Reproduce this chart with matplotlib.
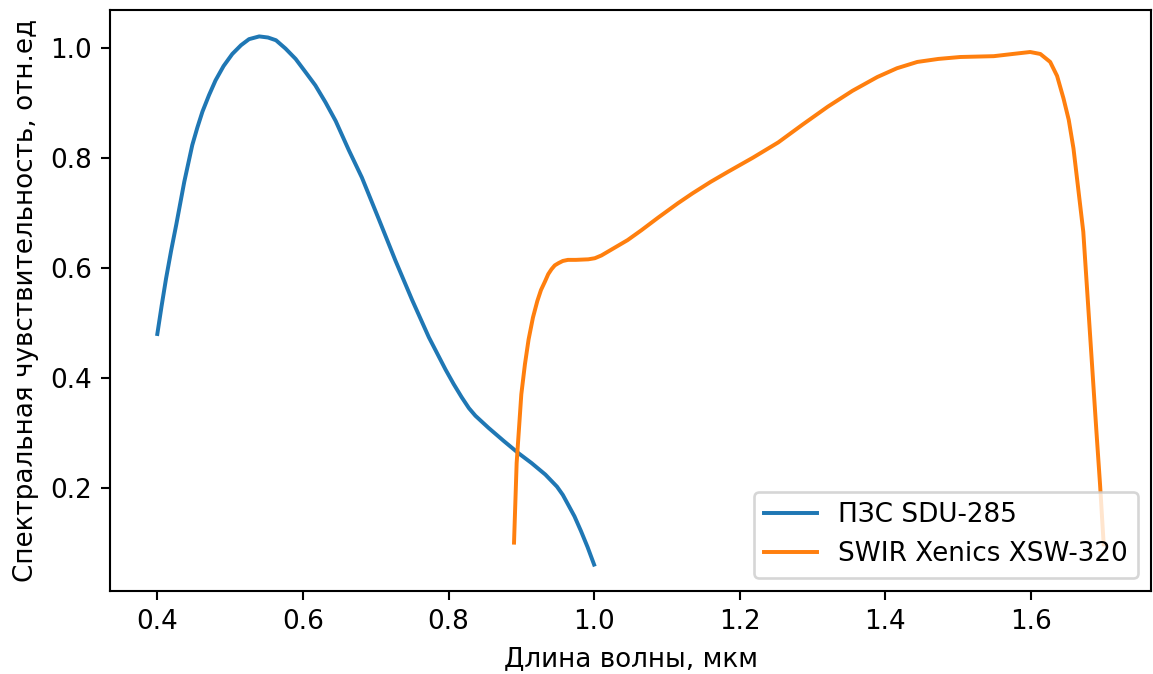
import matplotlib
matplotlib.use("Agg")
import matplotlib.pyplot as plt

# ПЗС SDU-285 (visible CCD)
ccd_wl = [0.400, 0.406, 0.412, 0.419, 0.426, 0.437, 0.448, 0.455, 0.462, 0.471,
          0.480, 0.491, 0.503, 0.515, 0.526, 0.540, 0.552, 0.563, 0.576, 0.590,
          0.603, 0.617, 0.631, 0.645, 0.663, 0.681, 0.704, 0.727, 0.750, 0.773,
          0.796, 0.807, 0.818, 0.828, 0.837, 0.855, 0.876, 0.896, 0.914, 0.933,
          0.949, 0.957, 0.964, 0.973, 0.982, 0.991, 1.000]
ccd_resp = [0.480, 0.532, 0.581, 0.632, 0.679, 0.757, 0.824, 0.856, 0.885, 0.915,
            0.942, 0.968, 0.990, 1.006, 1.017, 1.022, 1.020, 1.015, 1.000, 0.981,
            0.958, 0.933, 0.902, 0.868, 0.815, 0.765, 0.690, 0.614, 0.542, 0.474,
            0.415, 0.389, 0.365, 0.345, 0.331, 0.309, 0.285, 0.263, 0.245, 0.224,
            0.202, 0.187, 0.170, 0.148, 0.121, 0.092, 0.060]

# SWIR Xenics XSW-320
swir_wl = [0.890, 0.8936, 0.900, 0.905, 0.910, 0.916, 0.922, 0.927, 0.9325, 0.937,
           0.9415, 0.946, 0.951, 0.957, 0.964, 0.975, 0.992, 1.001, 1.010, 1.019,
           1.028, 1.046, 1.065, 1.088, 1.115, 1.135, 1.160, 1.184, 1.218, 1.253,
           1.287, 1.321, 1.355, 1.389, 1.416, 1.444, 1.473, 1.503, 1.549, 1.575,
           1.599, 1.613, 1.6265, 1.636, 1.6448, 1.652, 1.6585, 1.665, 1.672, 1.681,
           1.690, 1.695, 1.700]
swir_resp = [0.100, 0.245, 0.370, 0.425, 0.470, 0.510, 0.540, 0.560, 0.5755, 0.589,
             0.598, 0.605, 0.609, 0.613, 0.615, 0.615, 0.616, 0.618, 0.623, 0.630,
             0.637, 0.651, 0.669, 0.692, 0.718, 0.736, 0.757, 0.7755, 0.801, 0.829,
             0.862, 0.894, 0.923, 0.948, 0.964, 0.9755, 0.981, 0.9845, 0.986, 0.990,
             0.9936, 0.990, 0.9755, 0.950, 0.909, 0.870, 0.818, 0.745, 0.666, 0.4845,
             0.303, 0.206, 0.097]

dpi = 189
fig = plt.figure(figsize=(1153 / dpi, 674 / dpi), dpi=dpi)
ax = fig.add_axes([110 / 1153, 83 / 674, 1041 / 1153, 581 / 674])

ax.plot(ccd_wl, ccd_resp, label="ПЗС SDU-285")
ax.plot(swir_wl, swir_resp, label="SWIR Xenics XSW-320")

ax.set_xlabel("Длина волны, мкм")
ax.set_ylabel("Спектральная чувствительность, отн.ед")
ax.legend(loc="lower right")

fig.savefig("out.png", dpi=dpi)
plt.close(fig)
